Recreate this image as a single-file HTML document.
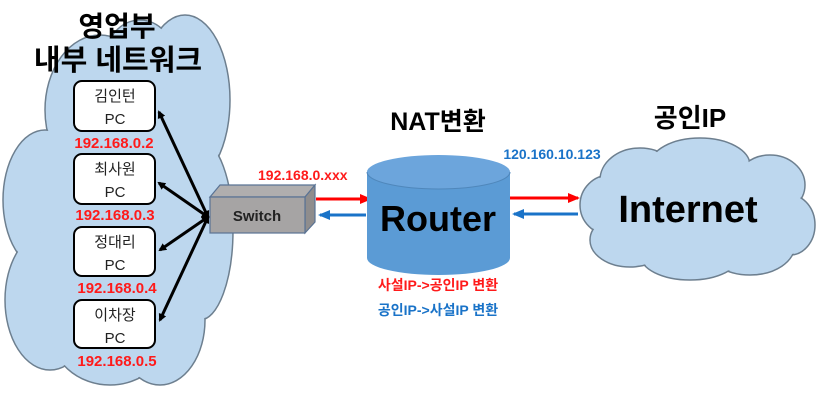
<!DOCTYPE html>
<html><head><meta charset="utf-8"><style>
html,body{margin:0;padding:0;background:#fff;}
svg{display:block;}
text{font-family:"Liberation Sans","Noto Sans CJK KR",sans-serif;font-weight:bold;}
</style></head><body>
<svg width="830" height="414" viewBox="0 0 830 414" xmlns="http://www.w3.org/2000/svg">
<defs>
<marker id="ab" markerWidth="8" markerHeight="8" refX="6" refY="4" orient="auto-start-reverse" markerUnits="userSpaceOnUse"><path d="M0,0 L8,4 L0,8 z" fill="#000"/></marker>
<marker id="ar" markerWidth="12" markerHeight="10" refX="10" refY="5" orient="auto" markerUnits="userSpaceOnUse"><path d="M0,0 L12,5 L0,10 z" fill="#ff0000"/></marker>
<marker id="abl" markerWidth="12" markerHeight="10" refX="10" refY="5" orient="auto" markerUnits="userSpaceOnUse"><path d="M0,0 L12,5 L0,10 z" fill="#1a73c8"/></marker>
</defs>
<!-- left cloud -->
<g stroke="#6d7f8f" stroke-width="1.5" fill="#bdd7ee">
<ellipse cx="100" cy="110" rx="55" ry="75"/>
<ellipse cx="185" cy="100" rx="45" ry="85"/>
<ellipse cx="140" cy="60" rx="35" ry="40"/>
<ellipse cx="200" cy="230" rx="33" ry="90"/>
<ellipse cx="45" cy="200" rx="42" ry="70"/>
<ellipse cx="50" cy="300" rx="45" ry="70"/>
<ellipse cx="110" cy="330" rx="60" ry="55"/>
<ellipse cx="160" cy="320" rx="45" ry="65"/>
</g>
<g fill="#bdd7ee">
<ellipse cx="100" cy="110" rx="54" ry="74"/>
<ellipse cx="185" cy="100" rx="44" ry="84"/>
<ellipse cx="140" cy="60" rx="34" ry="39"/>
<ellipse cx="200" cy="230" rx="32" ry="89"/>
<ellipse cx="45" cy="200" rx="41" ry="69"/>
<ellipse cx="50" cy="300" rx="44" ry="69"/>
<ellipse cx="110" cy="330" rx="59" ry="54"/>
<ellipse cx="160" cy="320" rx="44" ry="64"/>
<rect x="60" y="100" width="135" height="210"/>
</g>
<text x="117" y="36" font-size="28" text-anchor="middle">영업부</text>
<text x="118" y="70" font-size="29" text-anchor="middle">내부 네트워크</text>
<!-- PCs -->
<g fill="#fff" stroke="#000" stroke-width="2">
<rect x="74" y="81" width="81" height="50" rx="8"/>
<rect x="74" y="154" width="81" height="50" rx="8"/>
<rect x="74" y="227" width="81" height="49" rx="8"/>
<rect x="74" y="300" width="81" height="48" rx="8"/>
</g>
<g font-size="15" text-anchor="middle" fill="#222">
<text x="115" y="101" style="font-weight:normal">김인턴</text><text x="115" y="124" style="font-weight:normal">PC</text>
<text x="115" y="174" style="font-weight:normal">최사원</text><text x="115" y="197" style="font-weight:normal">PC</text>
<text x="115" y="247" style="font-weight:normal">정대리</text><text x="115" y="270" style="font-weight:normal">PC</text>
<text x="115" y="320" style="font-weight:normal">이차장</text><text x="115" y="343" style="font-weight:normal">PC</text>
</g>
<g font-size="15" fill="#ff1a1a" text-anchor="middle">
<text x="114" y="148">192.168.0.2</text>
<text x="115" y="220">192.168.0.3</text>
<text x="117" y="293">192.168.0.4</text>
<text x="117" y="366">192.168.0.5</text>
</g>
<!-- connectors -->
<g stroke="#000" stroke-width="3" marker-start="url(#ab)" marker-end="url(#ab)">
<line x1="208" y1="217" x2="159" y2="112"/>
<line x1="208" y1="217" x2="159" y2="183"/>
<line x1="208" y1="217" x2="160" y2="250"/>
<line x1="208" y1="217" x2="160" y2="320"/>
</g>
<!-- switch -->
<polygon points="210,197 220,185 315,185 305,197" fill="#b0aeae" stroke="#5a7394" stroke-width="1.2"/>
<polygon points="305,197 315,185 315,222 305,233" fill="#8f8d8d" stroke="#5a7394" stroke-width="1.2"/>
<rect x="210" y="197" width="95" height="36" fill="#a6a4a4" stroke="#5a7394" stroke-width="1.2"/>
<text x="257" y="221" font-size="15" text-anchor="middle" fill="#222">Switch</text>
<text x="258" y="180" font-size="14" fill="#ff1a1a">192.168.0.xxx</text>
<!-- left arrows -->
<line x1="316" y1="199" x2="370" y2="199" stroke="#ff0000" stroke-width="3" marker-end="url(#ar)"/>
<line x1="366" y1="215" x2="320" y2="215" stroke="#1a73c8" stroke-width="3" marker-end="url(#abl)"/>
<!-- router -->
<path d="M367,172 L367,258 A71.5,17 0 0 0 510,258 L510,172" fill="#5b9bd5"/>
<ellipse cx="438.5" cy="172" rx="71.5" ry="17" fill="#6ca5dc"/>
<path d="M367,172 A71.5,17 0 0 0 510,172" fill="none" stroke="#4f87bb" stroke-width="1"/>
<text x="438" y="231" font-size="36" text-anchor="middle" fill="#000">Router</text>
<text x="438" y="130" font-size="25" text-anchor="middle" fill="#000">NAT변환</text>
<text x="552" y="159" font-size="14" text-anchor="middle" fill="#1a73c8">120.160.10.123</text>
<!-- right arrows -->
<line x1="510" y1="198" x2="578" y2="198" stroke="#ff0000" stroke-width="3" marker-end="url(#ar)"/>
<line x1="578" y1="214" x2="514" y2="214" stroke="#1a73c8" stroke-width="3" marker-end="url(#abl)"/>
<text x="690" y="127" font-size="26" text-anchor="middle" fill="#000">공인IP</text>
<!-- internet cloud -->
<g stroke="#6d7f8f" stroke-width="1.5" fill="#bdd7ee">
<ellipse cx="610" cy="205" rx="30" ry="30"/>
<ellipse cx="640" cy="180" rx="40" ry="32"/>
<ellipse cx="700" cy="165" rx="50" ry="27"/>
<ellipse cx="770" cy="185" rx="35" ry="30"/>
<ellipse cx="790" cy="225" rx="25" ry="30"/>
<ellipse cx="750" cy="245" rx="45" ry="30"/>
<ellipse cx="690" cy="255" rx="50" ry="25"/>
<ellipse cx="630" cy="240" rx="40" ry="27"/>
</g>
<g fill="#bdd7ee">
<ellipse cx="610" cy="205" rx="29" ry="29"/>
<ellipse cx="640" cy="180" rx="39" ry="31"/>
<ellipse cx="700" cy="165" rx="49" ry="26"/>
<ellipse cx="770" cy="185" rx="34" ry="29"/>
<ellipse cx="790" cy="225" rx="24" ry="29"/>
<ellipse cx="750" cy="245" rx="44" ry="29"/>
<ellipse cx="690" cy="255" rx="49" ry="24"/>
<ellipse cx="630" cy="240" rx="39" ry="26"/>
<rect x="620" y="170" width="170" height="80"/>
</g>
<text x="688" y="222" font-size="38" text-anchor="middle" fill="#000">Internet</text>
<text x="438" y="290" font-size="14" text-anchor="middle" fill="#ff1a1a">사설IP-&gt;공인IP 변환</text>
<text x="438" y="315" font-size="14" text-anchor="middle" fill="#1a73c8">공인IP-&gt;사설IP 변환</text>
</svg>
</body></html>
